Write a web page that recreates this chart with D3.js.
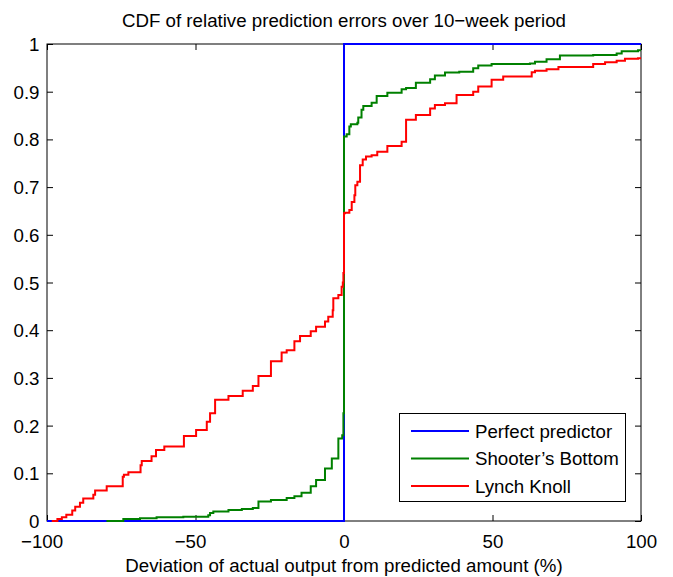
<!DOCTYPE html>
<html>
<head>
<meta charset="utf-8">
<script src="https://cdn.jsdelivr.net/npm/d3@7"></script>
<style>
  html, body { margin: 0; padding: 0; background: #fff; }
  svg { display: block; }
  text { font-family: "Liberation Sans", Arial, Helvetica, sans-serif; fill: #000; }
</style>
</head>
<body>
<svg id="chart" width="673" height="577"></svg>
<script>
// ---------- data ----------
const titleText = "CDF of relative prediction errors over 10\u2212week period";
const xLabelText = "Deviation of actual output from predicted amount (%)";
const xTicks = [-100, -50, 0, 50, 100];
const yTicks = [0, 0.1, 0.2, 0.3, 0.4, 0.5, 0.6, 0.7, 0.8, 0.9, 1];
const seriesNames = ["Perfect predictor", "Shooter\u2019s Bottom", "Lynch Knoll"];
const seriesColors = ["#0000ff", "#008000", "#ff0000"];

// Perfect predictor (step: value jumps at x)
const perfectX = [-100, 0, 100];
const perfectY = [0, 1, 1];

// Shooter's Bottom
const shooterX = [-80, -74.3, -68.7, -63.1, -54.1, -45.7, -45.1, -44.0, -38.9, -34.4, -30.7, -28.8, -24.6,
  -19.3, -16.7, -14.3, -11.2, -9.4, -6.4, -4.1, -1.9, -0.6, -0.2, 0, 0.9, 1.8, 2.3, 4.5, 4.8, 5.9, 6.5,
  9.3, 11.0, 14.6, 19.4, 20.9, 24.2, 29.0, 30.6, 34.0, 38.8, 43.5, 45.2, 49.7, 62.6, 64.3, 68.2, 72.7,
  83.9, 91.8, 93.5, 99.0, 100];
const shooterY = [0, 0.004, 0.006, 0.008, 0.009, 0.012, 0.017, 0.020, 0.023, 0.025, 0.027, 0.041, 0.044,
  0.048, 0.052, 0.059, 0.073, 0.086, 0.110, 0.131, 0.173, 0.180, 0.226, 0.806, 0.811, 0.827, 0.832, 0.835,
  0.846, 0.862, 0.870, 0.877, 0.891, 0.898, 0.905, 0.908, 0.919, 0.926, 0.934, 0.940, 0.942, 0.949, 0.955,
  0.958, 0.959, 0.963, 0.968, 0.976, 0.977, 0.980, 0.985, 0.987, 0.987];

// Lynch Knoll
const lynchX = [-98.4, -96.5, -95, -93.5, -91.5, -90.5, -88.9, -87.8, -84.4, -83.8, -79.9, -74.5, -74.1,
  -72.6, -68.5, -68.1, -64.8, -63.3, -60.5, -53.9, -49.8, -46.2, -45.1, -43.4, -38.9, -34.1, -30.7, -28.8,
  -24.6, -21.0, -19.3, -16.7, -14.8, -11.2, -9.4, -6.4, -5.3, -3.8, -3.6, -1.9, -0.8, -0.4, -0.2, 0,
  0.3, 1.8, 2.6, 3.5, 3.8, 4.5, 5.4, 6.3, 7.4, 9.3, 11.2, 14.6, 19.4, 20.9, 24.2, 29.0, 30.6, 34.0, 37.9,
  43.5, 45.2, 49.7, 53.6, 63.2, 64.3, 68.2, 72.2, 83.9, 87.9, 91.8, 94.6, 99.0, 100];
const lynchY = [0, 0.004, 0.008, 0.013, 0.022, 0.030, 0.038, 0.047, 0.055, 0.064, 0.073, 0.093, 0.097,
  0.102, 0.117, 0.126, 0.136, 0.149, 0.156, 0.178, 0.191, 0.208, 0.226, 0.254, 0.262, 0.273, 0.283, 0.304,
  0.335, 0.353, 0.358, 0.377, 0.388, 0.398, 0.407, 0.418, 0.428, 0.442, 0.467, 0.474, 0.491, 0.500, 0.520,
  0.645, 0.646, 0.652, 0.669, 0.683, 0.704, 0.711, 0.746, 0.758, 0.764, 0.767, 0.774, 0.786, 0.795, 0.841,
  0.851, 0.865, 0.872, 0.876, 0.893, 0.900, 0.911, 0.925, 0.932, 0.941, 0.944, 0.947, 0.952, 0.958, 0.962,
  0.965, 0.969, 0.970, 0.970];

// ---------- layout ----------
const L = 47, R = 641, T = 44, B = 521;
const FS = 18.7;
const svg = d3.select("#chart");
const x = d3.scaleLinear().domain([-100, 100]).range([L, R]);
const y = d3.scaleLinear().domain([0, 1]).range([B, T]);

// frame
svg.append("rect").attr("x", L).attr("y", T).attr("width", R - L).attr("height", B - T)
  .attr("fill", "none").attr("stroke", "#000").attr("stroke-width", 1);

// axes (inward ticks on all four sides)
const fmtY = d => d === 0 ? "0" : d === 1 ? "1" : d3.format(".1f")(d);
const gB = svg.append("g").attr("transform", `translate(0,${B})`)
  .call(d3.axisBottom(x).tickValues(xTicks).tickSize(-6).tickSizeOuter(0).tickFormat(d => String(Math.abs(d))));
const gT = svg.append("g").attr("transform", `translate(0,${T})`)
  .call(d3.axisTop(x).tickValues(xTicks).tickSize(-6).tickSizeOuter(0).tickFormat(""));
const gL = svg.append("g").attr("transform", `translate(${L},0)`)
  .call(d3.axisLeft(y).tickValues(yTicks).tickSize(-6).tickSizeOuter(0).tickFormat(fmtY));
const gR = svg.append("g").attr("transform", `translate(${R},0)`)
  .call(d3.axisRight(y).tickValues(yTicks).tickSize(-6).tickSizeOuter(0).tickFormat(""));
[gB, gT, gL, gR].forEach(g => {
  g.select(".domain").remove();
  g.selectAll(".tick line").attr("stroke", "#000").attr("stroke-width", 1);
});
gB.selectAll(".tick text")
  .attr("font-size", FS).attr("font-family", "Liberation Sans, Arial, sans-serif")
  .attr("y", 27).attr("dy", 0).attr("fill", "#000")
  .each(function(d) {
    const t = d3.select(this);
    if (d < 0) {
      const w = this.getComputedTextLength();
      t.attr("text-anchor", "end").attr("x", w / 2).text("\u2212" + Math.abs(d));
    }
  });
gL.selectAll(".tick text")
  .attr("font-size", FS).attr("font-family", "Liberation Sans, Arial, sans-serif")
  .attr("x", -7.5).attr("dy", "0.35em").attr("fill", "#000");

// lines
const line = d3.line().x(d => x(d[0])).y(d => y(d[1])).curve(d3.curveStepAfter);
const series = [
  d3.zip(perfectX, perfectY),
  d3.zip(shooterX, shooterY),
  d3.zip(lynchX, lynchY)
];
svg.append("g").selectAll("path").data(series).join("path")
  .attr("d", line)
  .attr("fill", "none")
  .attr("stroke", (d, i) => seriesColors[i])
  .attr("stroke-width", 2);

// title & x label
svg.append("text").attr("x", 344).attr("y", 27).attr("text-anchor", "middle")
  .attr("font-size", FS).text(titleText);
svg.append("text").attr("x", 344).attr("y", 572).attr("text-anchor", "middle")
  .attr("font-size", FS).text(xLabelText);

// legend
const lg = svg.append("g");
lg.append("rect").attr("x", 399.5).attr("y", 413.5).attr("width", 226).attr("height", 88)
  .attr("fill", "#fff").attr("stroke", "#000").attr("stroke-width", 1);
const rowY = [431, 458.5, 486];
seriesNames.forEach((name, i) => {
  lg.append("line").attr("x1", 411).attr("x2", 469).attr("y1", rowY[i]).attr("y2", rowY[i])
    .attr("stroke", seriesColors[i]).attr("stroke-width", 2);
  lg.append("text").attr("x", 475).attr("y", rowY[i] + 6.5).attr("font-size", FS).text(name);
});
</script>
</body>
</html>
